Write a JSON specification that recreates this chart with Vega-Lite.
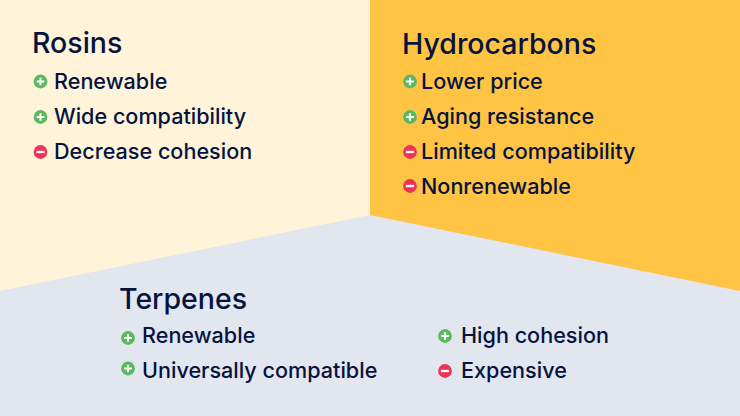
{
  "$schema": "https://vega.github.io/schema/vega-lite/v6.json",
  "description": "Pros and cons of rosins, hydrocarbons and terpenes.",
  "width": 740,
  "height": 416,
  "autosize": {"type": "fit", "contains": "padding"},
  "padding": 0,
  "background": "#e2e6ee",
  "view": {"stroke": null},
  "datasets": {
    "regions": [
      {"group": "Rosins", "px": 0, "top": 0, "bottom": 291},
      {"group": "Rosins", "px": 370, "top": 0, "bottom": 215},
      {"group": "Hydrocarbons", "px": 370, "top": 0, "bottom": 215},
      {"group": "Hydrocarbons", "px": 740, "top": 0, "bottom": 291}
    ],
    "titles": [
      {"label": "Rosins", "px": 32, "py": 44},
      {"label": "Hydrocarbons", "px": 402, "py": 45},
      {"label": "Terpenes", "px": 119, "py": 300}
    ],
    "items": [
      {"label": "Renewable", "sign": "plus", "px": 54, "py": 82.5, "ix": 40.5, "iy": 81.5},
      {"label": "Wide compatibility", "sign": "plus", "px": 54, "py": 117.5, "ix": 40.5, "iy": 117},
      {"label": "Decrease cohesion", "sign": "minus", "px": 54, "py": 152.5, "ix": 40.5, "iy": 152},
      {"label": "Lower price", "sign": "plus", "px": 421, "py": 82.5, "ix": 410, "iy": 81.5},
      {"label": "Aging resistance", "sign": "plus", "px": 421, "py": 117.5, "ix": 410, "iy": 117},
      {"label": "Limited compatibility", "sign": "minus", "px": 421, "py": 152.5, "ix": 410, "iy": 152},
      {"label": "Nonrenewable", "sign": "minus", "px": 421, "py": 187.5, "ix": 410, "iy": 186},
      {"label": "Renewable", "sign": "plus", "px": 142, "py": 336.5, "ix": 128, "iy": 338},
      {"label": "Universally compatible", "sign": "plus", "px": 142, "py": 371.5, "ix": 128, "iy": 368.5},
      {"label": "High cohesion", "sign": "plus", "px": 461, "py": 336.5, "ix": 445, "iy": 336},
      {"label": "Expensive", "sign": "minus", "px": 461, "py": 371.5, "ix": 445, "iy": 371}
    ]
  },
  "layer": [
    {
      "data": {"name": "regions"},
      "mark": {"type": "area", "orient": "vertical", "interpolate": "linear"},
      "encoding": {
        "x": {"field": "px", "type": "quantitative", "scale": {"domain": [0, 740], "range": [0, 740]}, "axis": null},
        "y": {"field": "top", "type": "quantitative", "stack": null, "scale": {"domain": [0, 416], "range": [0, 416]}, "axis": null},
        "y2": {"field": "bottom"},
        "color": {
          "field": "group",
          "type": "nominal",
          "scale": {"domain": ["Rosins", "Hydrocarbons"], "range": ["#fff3d9", "#ffc444"]},
          "legend": null
        }
      }
    },
    {
      "data": {"name": "titles"},
      "mark": {"type": "text", "align": "left", "baseline": "middle", "font": "Inter", "fontSize": 28.5, "fontWeight": 500, "color": "#06133f"},
      "encoding": {
        "x": {"field": "px", "type": "quantitative", "scale": {"domain": [0, 740], "range": [0, 740]}, "axis": null},
        "y": {"field": "py", "type": "quantitative", "scale": {"domain": [0, 416], "range": [0, 416]}, "axis": null},
        "text": {"field": "label"}
      }
    },
    {
      "data": {"name": "items"},
      "mark": {"type": "text", "align": "left", "baseline": "middle", "font": "Inter", "fontSize": 21.6, "fontWeight": 500, "color": "#06133f"},
      "encoding": {
        "x": {"field": "px", "type": "quantitative", "scale": {"domain": [0, 740], "range": [0, 740]}, "axis": null},
        "y": {"field": "py", "type": "quantitative", "scale": {"domain": [0, 416], "range": [0, 416]}, "axis": null},
        "text": {"field": "label"}
      }
    },
    {
      "data": {"name": "items"},
      "mark": {"type": "point", "shape": "circle", "filled": true, "opacity": 1, "size": 190},
      "encoding": {
        "x": {"field": "ix", "type": "quantitative", "scale": {"domain": [0, 740], "range": [0, 740]}, "axis": null},
        "y": {"field": "iy", "type": "quantitative", "scale": {"domain": [0, 416], "range": [0, 416]}, "axis": null},
        "fill": {
          "field": "sign",
          "type": "nominal",
          "scale": {"domain": ["plus", "minus"], "range": ["#5cb85f", "#ef3358"]},
          "legend": null
        }
      }
    },
    {
      "data": {"name": "items"},
      "mark": {"type": "point", "filled": true, "opacity": 1, "size": 190, "fill": "#ffffff"},
      "encoding": {
        "x": {"field": "ix", "type": "quantitative", "scale": {"domain": [0, 740], "range": [0, 740]}, "axis": null},
        "y": {"field": "iy", "type": "quantitative", "scale": {"domain": [0, 416], "range": [0, 416]}, "axis": null},
        "shape": {
          "field": "sign",
          "type": "nominal",
          "scale": {
            "domain": ["plus", "minus"],
            "range": [
              "M-0.56,-0.15H-0.15V-0.56H0.15V-0.15H0.56V0.15H0.15V0.56H-0.15V0.15H-0.56Z",
              "M-0.6,-0.17H0.6V0.17H-0.6Z"
            ]
          },
          "legend": null
        }
      }
    }
  ]
}
